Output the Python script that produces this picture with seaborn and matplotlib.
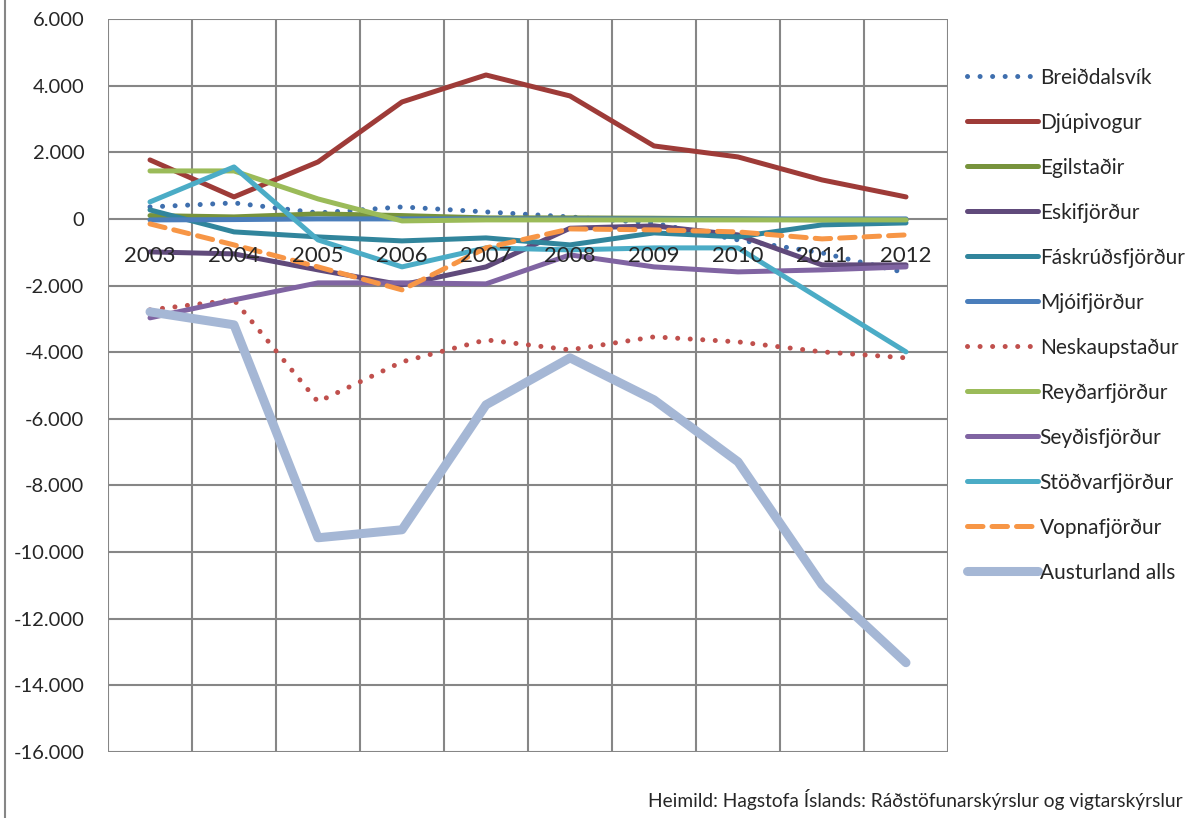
import seaborn as sns
import matplotlib.pyplot as plt
from matplotlib.ticker import FuncFormatter, FixedLocator
from matplotlib.lines import Line2D
from matplotlib.transforms import ScaledTranslation

# ---------- DATA ----------
years = [2003, 2004, 2005, 2006, 2007, 2008, 2009, 2010, 2011, 2012]

breiddalsvik = [360, 480, 180, 360, 210, 60, -130, -630, -1020, -1620]
djupivogur = [1770, 660, 1710, 3510, 4320, 3690, 2190, 1860, 1170, 660]
egilstadir = [100, 60, 150, 100, 30, 30, 20, 0, -30, -30]
eskifjordur = [-990, -1050, -1530, -1980, -1440, -280, -210, -480, -1380, -1380]
faskrudsfjordur = [270, -390, -540, -660, -570, -780, -420, -540, -180, -120]
mjoifjordur = [-30, -20, 0, 0, 0, 0, 0, 0, 0, 0]
neskaupstadur = [-2730, -2430, -5490, -4290, -3630, -3930, -3540, -3690, -3990, -4170]
reydarfjordur = [1440, 1440, 600, -60, -30, -30, -30, -30, -30, -30]
seydisfjordur = [-2970, -2430, -1920, -1920, -1950, -1080, -1440, -1590, -1530, -1440]
stodvarfjordur = [510, 1560, -630, -1440, -870, -930, -870, -870, -2430, -3990]
vopnafjordur = [-150, -780, -1440, -2130, -870, -300, -330, -390, -600, -480]
austurland = [-2790, -3180, -9570, -9330, -5580, -4170, -5430, -7290, -10980, -13320]

dots = (0, (0.01, 2.5))
series = [
    ("Breiðdalsvík", breiddalsvik, "#3F6FAE", 3.6, dots),
    ("Djúpivogur", djupivogur, "#9E3B38", 3.6, "-"),
    ("Egilstaðir", egilstadir, "#77933C", 3.6, "-"),
    ("Eskifjörður", eskifjordur, "#604A7B", 3.6, "-"),
    ("Fáskrúðsfjörður", faskrudsfjordur, "#31859C", 3.6, "-"),
    ("Mjóifjörður", mjoifjordur, "#4A7EBB", 3.6, "-"),
    ("Neskaupstaður", neskaupstadur, "#C0504D", 3.6, dots),
    ("Reyðarfjörður", reydarfjordur, "#9BBB59", 3.6, "-"),
    ("Seyðisfjörður", seydisfjordur, "#8064A2", 3.6, "-"),
    ("Stöðvarfjörður", stodvarfjordur, "#4BACC6", 3.6, "-"),
    ("Vopnafjörður", vopnafjordur, "#F79646", 3.6, (0, (3.1, 1.8))),
    ("Austurland alls", austurland, "#A5B7D5", 6.5, "-"),
]

sns.set_style("white")
plt.rcParams["font.family"] = ["Lato", "DejaVu Sans"]

fig = plt.figure(figsize=(12.01, 8.18), dpi=100)
ax = fig.add_axes([108 / 1201, 1 - 752 / 818, 840 / 1201, 733 / 818])

for name, vals, color, lw, ls in series:
    sns.lineplot(x=years, y=vals, ax=ax, color=color, linewidth=lw,
                 linestyle=ls, label=name, solid_capstyle="round",
                 dash_capstyle="round")

ax.set_xlim(2002.5, 2012.5)
ax.set_ylim(-16000, 6000)
ax.set_yticks(range(-16000, 6001, 2000))
ax.yaxis.set_major_formatter(
    FuncFormatter(lambda v, p: f"{int(v):,}".replace(",", ".")))
ax.set_xticks([])
ax.xaxis.set_minor_locator(FixedLocator([y + 0.5 for y in range(2002, 2013)]))

for s in ax.spines.values():
    s.set_visible(False)

ax.grid(False)
ax.grid(axis="y", which="major", color="#868686", linewidth=1.5)
ax.grid(axis="x", which="minor", color="#868686", linewidth=1.5)
ax.set_axisbelow(True)
ax.tick_params(axis="x", which="both", length=0)
ax.tick_params(axis="y", length=6, width=1.5, color="#868686", pad=11,
               labelsize=14.5)
ax.set_xlabel("")
ax.set_ylabel("")

# year labels sit just under the zero line, above the lines
shift = ScaledTranslation(0, -0.43, fig.dpi_scale_trans)
for y in years:
    ax.text(y, 0, str(y), ha="center", va="baseline", fontsize=16,
            transform=ax.transData + shift, zorder=10)

ax.get_legend().remove()
handles, labels = ax.get_legend_handles_labels()
fig.legend(handles, labels, loc="upper left",
           bbox_to_anchor=(948 / 1201, 1 - 49 / 818), frameon=False,
           fontsize=15, handlelength=3.4, handletextpad=0.1,
           labelspacing=1.2)

fig.add_artist(Line2D([5 / 1201, 5 / 1201], [0, 1], color="#868686",
                      linewidth=1.5))

fig.text(1183 / 1201, 1 - 800 / 818,
         "Heimild: Hagstofa Íslands: Ráðstöfunarskýrslur og vigtarskýrslur",
         ha="right", va="center", fontsize=13.8)

fig.savefig("out.png", dpi=100)
